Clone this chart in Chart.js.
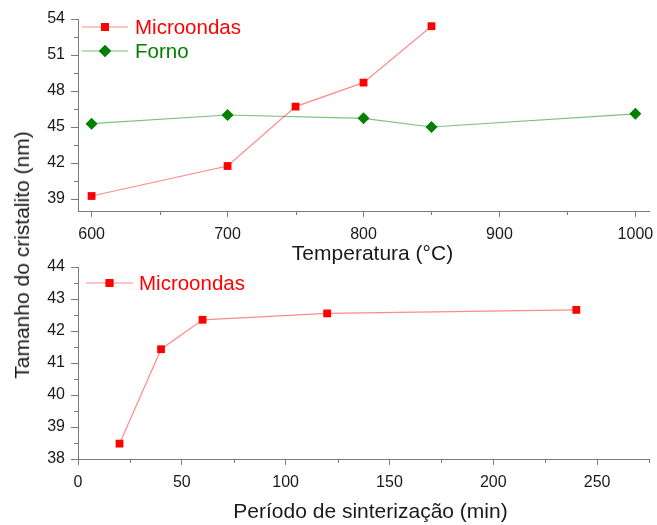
<!DOCTYPE html>
<html>
<head>
<meta charset="utf-8">
<script src="https://cdn.jsdelivr.net/npm/chart.js@4"></script>
<style>
  html, body { margin: 0; padding: 0; background: #fff; }
  #wrap { position: relative; width: 657px; height: 525px; }
  #wrap canvas { position: absolute; left: 0; top: 0; }
  #ylab {
    position: absolute; left: 22px; top: 255px; width: 0; height: 0;
  }
  #ylab span {
    position: absolute; white-space: nowrap;
    transform: translate(-50%, -50%) rotate(-90deg);
    font: 21px "Liberation Sans", Arial, sans-serif; color: #1a1a1a;
  }
</style>
</head>
<body>
<div id="wrap">
  <canvas id="topChart" width="657" height="525"></canvas>
  <canvas id="botChart" width="657" height="525"></canvas>
  <div id="ylab"><span>Tamanho do cristalito (nm)</span></div>
</div>
<script>
// top panel: crystallite size vs temperature
const tempMicro = [600, 700, 750, 800, 850];
const sizeMicro = [39.25, 41.75, 46.7, 48.7, 53.4];
const tempForno = [600, 700, 800, 850, 1000];
const sizeForno = [45.28, 46.0, 45.72, 45.0, 46.1];
const tempTicks = [600, 700, 800, 900, 1000];
const tempMinor = [650, 750, 850, 950];
const sizeTicksTop = [39, 42, 45, 48, 51, 54];
const sizeMinorTop = [40.5, 43.5, 46.5, 49.5, 52.5];

// bottom panel: crystallite size vs sintering time
const periodo = [20, 40, 60, 120, 240];
const sizePeriodo = [38.48, 41.43, 42.35, 42.55, 42.66];
const periodoTicks = [0, 50, 100, 150, 200, 250];
const periodoMinor = [25, 75, 125, 175, 225, 275];
const sizeTicksBot = [38, 39, 40, 41, 42, 43, 44];
const sizeMinorBot = [38.5, 39.5, 40.5, 41.5, 42.5, 43.5];

const FONT = '"Liberation Sans", Arial, sans-serif';
const AXIS = '#7a7a7a';
const RED = '#ff0000', RED_LINE = 'rgba(255,60,60,0.6)';
const GREEN = '#008000', GREEN_LINE = 'rgba(40,150,40,0.6)';

const pts = (xs, ys) => xs.map((x, i) => ({ x: x, y: ys[i] }));

// small ticks between the labelled ones
const minorTicks = {
  id: 'minorTicks',
  afterDraw(chart, args, opts) {
    const ctx = chart.ctx;
    const xs = chart.scales.x, ys = chart.scales.y;
    ctx.save();
    ctx.strokeStyle = AXIS;
    ctx.lineWidth = 1;
    ctx.beginPath();
    opts.x.forEach(v => {
      const px = Math.round(xs.getPixelForValue(v)) + 0.5;
      ctx.moveTo(px, xs.top);
      ctx.lineTo(px, xs.top + 4);
    });
    opts.y.forEach(v => {
      const py = Math.round(ys.getPixelForValue(v)) + 0.5;
      ctx.moveTo(ys.right, py);
      ctx.lineTo(ys.right - 4, py);
    });
    ctx.stroke();
    ctx.restore();
  }
};

// x axis title, a little right of the plot centre like the original
const xTitle = {
  id: 'xTitle',
  afterDraw(chart, args, opts) {
    const ctx = chart.ctx;
    const a = chart.chartArea;
    ctx.save();
    ctx.font = '21px ' + FONT;
    ctx.fillStyle = '#1a1a1a';
    ctx.textAlign = 'center';
    ctx.textBaseline = 'middle';
    ctx.fillText(opts.text, (a.left + a.right) / 2 + opts.dx, opts.y);
    ctx.restore();
  }
};

// legend with line + marker + coloured text
const lineLegend = {
  id: 'lineLegend',
  afterDraw(chart, args, opts) {
    const ctx = chart.ctx;
    ctx.save();
    opts.items.forEach((it, i) => {
      const ds = chart.data.datasets[i];
      const y = opts.y + i * opts.gap;
      ctx.strokeStyle = ds.borderColor;
      ctx.lineWidth = 1.2;
      ctx.beginPath();
      ctx.moveTo(opts.x1, y);
      ctx.lineTo(opts.x2, y);
      ctx.stroke();
      ctx.fillStyle = ds.pointBackgroundColor;
      Chart.helpers.drawPoint(ctx, {
        pointStyle: ds.pointStyle, radius: ds.pointRadius, rotation: 0, borderWidth: 0
      }, (opts.x1 + opts.x2) / 2, y);
      ctx.fill();
      ctx.font = '20.5px ' + FONT;
      ctx.textBaseline = 'middle';
      ctx.textAlign = 'left';
      ctx.fillText(ds.label, opts.tx, y + 1);
    });
    ctx.restore();
  }
};

function makeScales(xMin, xMax, xMajor, xHeight, yMin, yMax, yMajor) {
  const fixTicks = list => scale => { scale.ticks = list.map(v => ({ value: v })); };
  return {
    x: {
      type: 'linear', min: xMin, max: xMax,
      afterBuildTicks: fixTicks(xMajor),
      afterFit: s => { s.height = xHeight; s.paddingLeft = 0; s.paddingRight = 0; },
      grid: { drawOnChartArea: false, tickLength: 6, tickColor: AXIS },
      border: { color: AXIS, width: 1 },
      ticks: {
        color: '#1a1a1a', font: { family: FONT, size: 16 }, padding: 8, maxRotation: 0,
        callback: v => String(v)
      }
    },
    y: {
      min: yMin, max: yMax,
      afterBuildTicks: fixTicks(yMajor),
      afterFit: s => { s.width = 78; s.paddingTop = 0; s.paddingBottom = 0; },
      grid: { drawOnChartArea: false, tickLength: 7, tickColor: AXIS },
      border: { color: AXIS, width: 1 },
      ticks: { color: '#1a1a1a', font: { family: FONT, size: 16 }, padding: 6, callback: v => String(v) }
    }
  };
}

const common = {
  responsive: false,
  animation: false,
  events: [],
  plugins: { legend: { display: false }, tooltip: { enabled: false } }
};

new Chart(document.getElementById('topChart'), {
  type: 'line',
  data: {
    datasets: [
      {
        label: 'Microondas', data: pts(tempMicro, sizeMicro),
        borderColor: RED_LINE, borderWidth: 1.2,
        pointStyle: 'rect', pointRadius: 5.5,
        pointBackgroundColor: RED, pointBorderWidth: 0
      },
      {
        label: 'Forno', data: pts(tempForno, sizeForno),
        borderColor: GREEN_LINE, borderWidth: 1.2,
        pointStyle: 'rectRot', pointRadius: 6,
        pointBackgroundColor: GREEN, pointBorderWidth: 0
      }
    ]
  },
  options: Object.assign({}, common, {
    layout: { padding: { top: 19, right: 8, left: 0, bottom: 260 } },
    scales: makeScales(590, 1010, tempTicks, 54, 38, 54, sizeTicksTop),
    plugins: Object.assign({}, common.plugins, {
      minorTicks: { x: tempMinor, y: sizeMinorTop },
      xTitle: { text: 'Temperatura (°C)', dx: 9, y: 254 },
      lineLegend: { items: [0, 1], x1: 82, x2: 128, tx: 135, y: 27, gap: 24 }
    })
  }),
  plugins: [minorTicks, xTitle, lineLegend]
});

new Chart(document.getElementById('botChart'), {
  type: 'line',
  data: {
    datasets: [
      {
        label: 'Microondas', data: pts(periodo, sizePeriodo),
        borderColor: RED_LINE, borderWidth: 1.2,
        pointStyle: 'rect', pointRadius: 5.5,
        pointBackgroundColor: RED, pointBorderWidth: 0
      }
    ]
  },
  options: Object.assign({}, common, {
    layout: { padding: { top: 267, right: 8, left: 0, bottom: 2 } },
    scales: makeScales(0, 275, periodoTicks, 64, 38, 44, sizeTicksBot),
    plugins: Object.assign({}, common.plugins, {
      minorTicks: { x: periodoMinor, y: sizeMinorBot },
      xTitle: { text: 'Período de sinterização (min)', dx: 7, y: 512 },
      lineLegend: { items: [0], x1: 86, x2: 133, tx: 139, y: 283, gap: 24 }
    })
  }),
  plugins: [minorTicks, xTitle, lineLegend]
});
</script>
</body>
</html>
